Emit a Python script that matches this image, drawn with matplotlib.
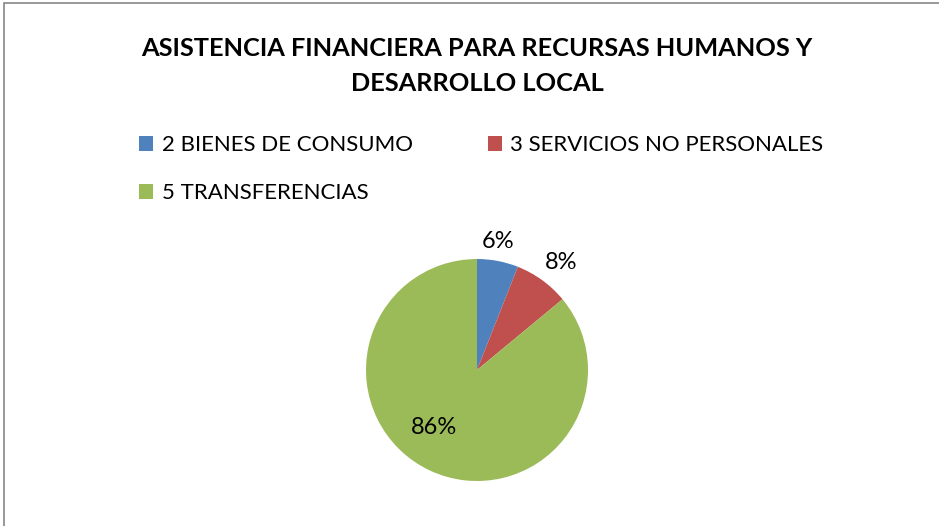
import matplotlib.pyplot as plt
from matplotlib.patches import Rectangle

# data
categories = ['2 BIENES DE CONSUMO', '3 SERVICIOS NO PERSONALES', '5 TRANSFERENCIAS']
shares = [6, 8, 86]
colors = ['#4F81BD', '#C0504D', '#9BBB59']
title = 'ASISTENCIA FINANCIERA PARA RECURSAS HUMANOS Y\nDESARROLLO LOCAL'
# where the percent labels sit, in units of the pie radius
label_pos = [(0.19, 1.16), (0.76, 0.97), (-0.39, -0.52)]

plt.rcParams['font.family'] = ['Lato', 'DejaVu Sans']

W, H = 939, 526
fig = plt.figure(figsize=(W / 100, H / 100), dpi=100)

# chart border (cropped at right and bottom)
fig.patches.append(Rectangle((4 / W, -0.1), 1.2, (H - 3) / H + 0.1, transform=fig.transFigure,
                             fill=False, edgecolor='#868686', linewidth=1.2))

fig.text(477 / W, 1 - 66 / H, title, ha='center', va='center', fontsize=18.3,
         fontweight='bold', linespacing=1.62, color='black')

# pie axes: center (477, 370), radius 111 px
r = 111
ax = fig.add_axes([(477 - r) / W, (H - 370 - r) / H, 2 * r / W, 2 * r / H])
wedges, _ = ax.pie(shares, colors=colors, startangle=90, counterclock=False,
                   radius=1, wedgeprops=dict(linewidth=0))
ax.set_xlim(-1, 1)
ax.set_ylim(-1, 1)
ax.set_aspect('equal')
ax.axis('off')

for v, (x, y) in zip(shares, label_pos):
    ax.text(x, y, '{}%'.format(v), ha='center', va='center', fontsize=17, color='black')

# legend filled row by row (matplotlib fills columns first)
order = [0, 2, 1]
leg = fig.legend([wedges[i] for i in order], [categories[i] for i in order],
                 loc='upper left', bbox_to_anchor=(128 / W, 1 - 124 / H),
                 ncol=2, frameon=False, fontsize=16, handlelength=0.63, handleheight=0.63,
                 handletextpad=0.38, columnspacing=3.38, labelspacing=1.27, borderpad=0)

fig.savefig('out.png', dpi=100)
